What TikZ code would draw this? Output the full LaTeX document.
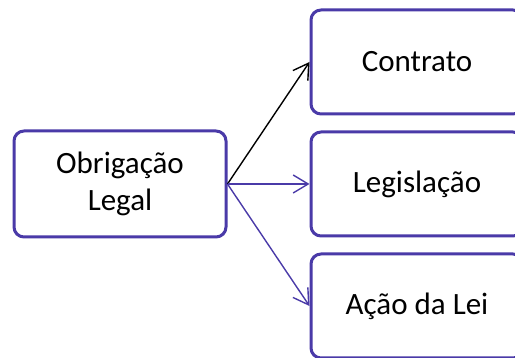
\documentclass[tikz,border=0pt]{standalone}
\usepackage{fontspec}
\setmainfont{Carlito}
\usepackage{tikz}
\usetikzlibrary{positioning, arrows.meta}
\definecolor{roxo}{HTML}{4A3AA8}
\tikzset{
  caixa/.style = {rectangle, rounded corners=10pt, draw=roxo, line width=3pt,
                  fill=white, minimum width=212pt, minimum height=104pt,
                  align=center, font=\fontsize{31}{37}\selectfont},
  seta/.style  = {-{Straight Barb[length=15pt,width=18pt]}, line width=1.4pt, draw=roxo},
}
\begin{document}
\begin{tikzpicture}[x=1pt, y=-1pt]
  \useasboundingbox (0,0) rectangle (515,358);

  % origem
  \node[caixa, minimum height=106pt] (obrig) at (120,184) {Obrigação\\Legal};

  % fontes
  \node[caixa, right=82pt of obrig] (legis) {Legislação};
  \node[caixa, above=15pt of legis] (contr) {Contrato};
  \node[caixa, below=15pt of legis] (acao) {Ação da Lei};

  \draw[seta, draw=black] (obrig.east) -- (contr.west);
  \draw[seta] (obrig.east) -- (legis.west);
  \draw[seta] (obrig.east) -- (acao.west);

\end{tikzpicture}
\end{document}
